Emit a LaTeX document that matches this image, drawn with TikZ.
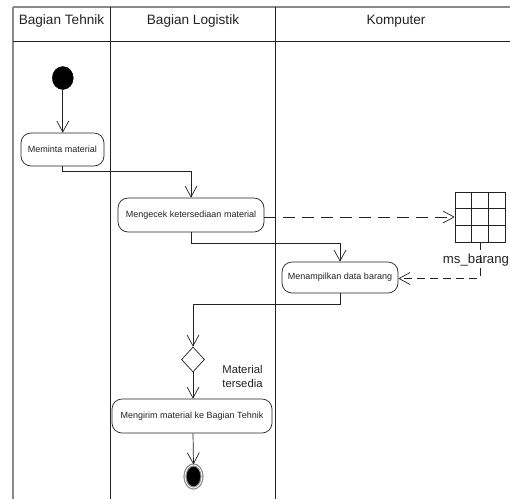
\documentclass[tikz,border=0pt]{standalone}
\usepackage{fontspec}
\setmainfont{Liberation Sans}
\usetikzlibrary{arrows.meta,shapes.geometric}
\definecolor{ink}{HTML}{222222}
\definecolor{frame}{HTML}{8A8A8A}
\tikzset{
  act/.style={draw=ink, line width=0.7pt, rounded corners=10pt, align=center, inner sep=0pt, text=ink, font=\fontsize{9}{11}\selectfont},
  flow/.style={draw=ink, line width=0.7pt, -{Straight Barb[length=11pt,width=12pt,line width=0.7pt]}},
  dep/.style={flow, dash pattern=on 12pt off 7pt},
  dep2/.style={flow, dash pattern=on 8pt off 5pt},
  lane/.style={draw=ink, line width=0.8pt},
  head/.style={text=ink, font=\fontsize{13.6}{15}\selectfont, inner sep=0pt},
}
\begin{document}
\begin{tikzpicture}[x=1pt,y=-1pt]
\useasboundingbox (0,0) rectangle (510,499);
% swimlane frame
\draw[frame, line width=1.2pt] (13,7) -- (510,7);
\draw[frame, line width=1.2pt] (13,7) -- (13,499);
\draw[lane] (13,41) -- (510,41);
\draw[lane] (110,7) -- (110,499);
\draw[lane] (275,7) -- (275,499);
\node[head] (h1) at (61.5,21) {Bagian Tehnik};
\node[head] (h2) at (193,21) {Bagian Logistik};
\node[head] (h3) at (396,21) {Komputer};
% start
\node[ellipse, fill=black, draw=black, minimum width=21pt, minimum height=23pt, inner sep=0pt] (start) at (62.8,78) {};
% activities
\node[act, minimum width=83pt, minimum height=33pt] (m1) at (62.5,149.5) {Meminta material};
\node[act, minimum width=146pt, minimum height=34pt] (m2) at (191,215) {Mengecek ketersediaan material};
\node[act, minimum width=116pt, minimum height=31pt] (m3) at (340,277.5) {Menampilkan data barang};
\node[diamond, draw=ink, line width=0.7pt, minimum width=23pt, minimum height=25pt, inner sep=0pt] (dec) at (193,359.5) {};
\node[act, minimum width=160pt, minimum height=34pt] (m4) at (192,416) {Mengirim material ke Bagian Tehnik};
% end
\node[ellipse, draw=frame, line width=1.2pt, double=white, double distance=0.8pt, fill=black, minimum width=17pt, minimum height=23pt, inner sep=0pt] (fin) at (193.5,476.5) {};
% data store grid
\node[draw=ink, line width=0.7pt, minimum width=50pt, minimum height=50pt, inner sep=0pt] (grid) at (480,217) {};
\draw[ink, line width=0.6pt] (grid.north west) ++(16.67,0) -- ++(0,50) ++(16.67,0) -- ++(0,-50);
\draw[ink, line width=0.6pt] (grid.north west) ++(0,16.67) -- ++(50,0) ++(0,16.67) -- ++(-50,0);
\node[text=ink, font=\fontsize{13.2}{15}\selectfont, inner sep=0pt] (gl) at (476,260) {ms\_barang};
\node[text=ink, font=\fontsize{11.3}{14}\selectfont, align=center, inner sep=0pt] (lab) at (242.5,376) {Material\\tersedia};
% helper coordinates
\coordinate (j1) at (0,171);
\coordinate (j2) at (0,243);
\coordinate (j3) at (0,304);
\coordinate (j4) at (0,278.5);
% connectors
\draw[flow] (start) -- (m1.north -| start);
\draw[flow] (m1.south -| start) -- (j1 -| start) -| (m2.north);
\draw[flow] (m2.south) -- (j2 -| m2.south) -| (m3.north);
\draw[flow] (m3.south) -- (j3 -| m3.south) -| (dec.north);
\draw[flow] (dec.south) -- (m4.north -| dec.south);
\draw[flow] (m4.south -| dec.south) -- (fin.north);
\draw[dep] (m2.east |- grid.west) -- (grid.west);
\draw[dep2] (grid.south) -- (j4 -| grid.south) -- (j4 -| m3.east);
\end{tikzpicture}
\end{document}
